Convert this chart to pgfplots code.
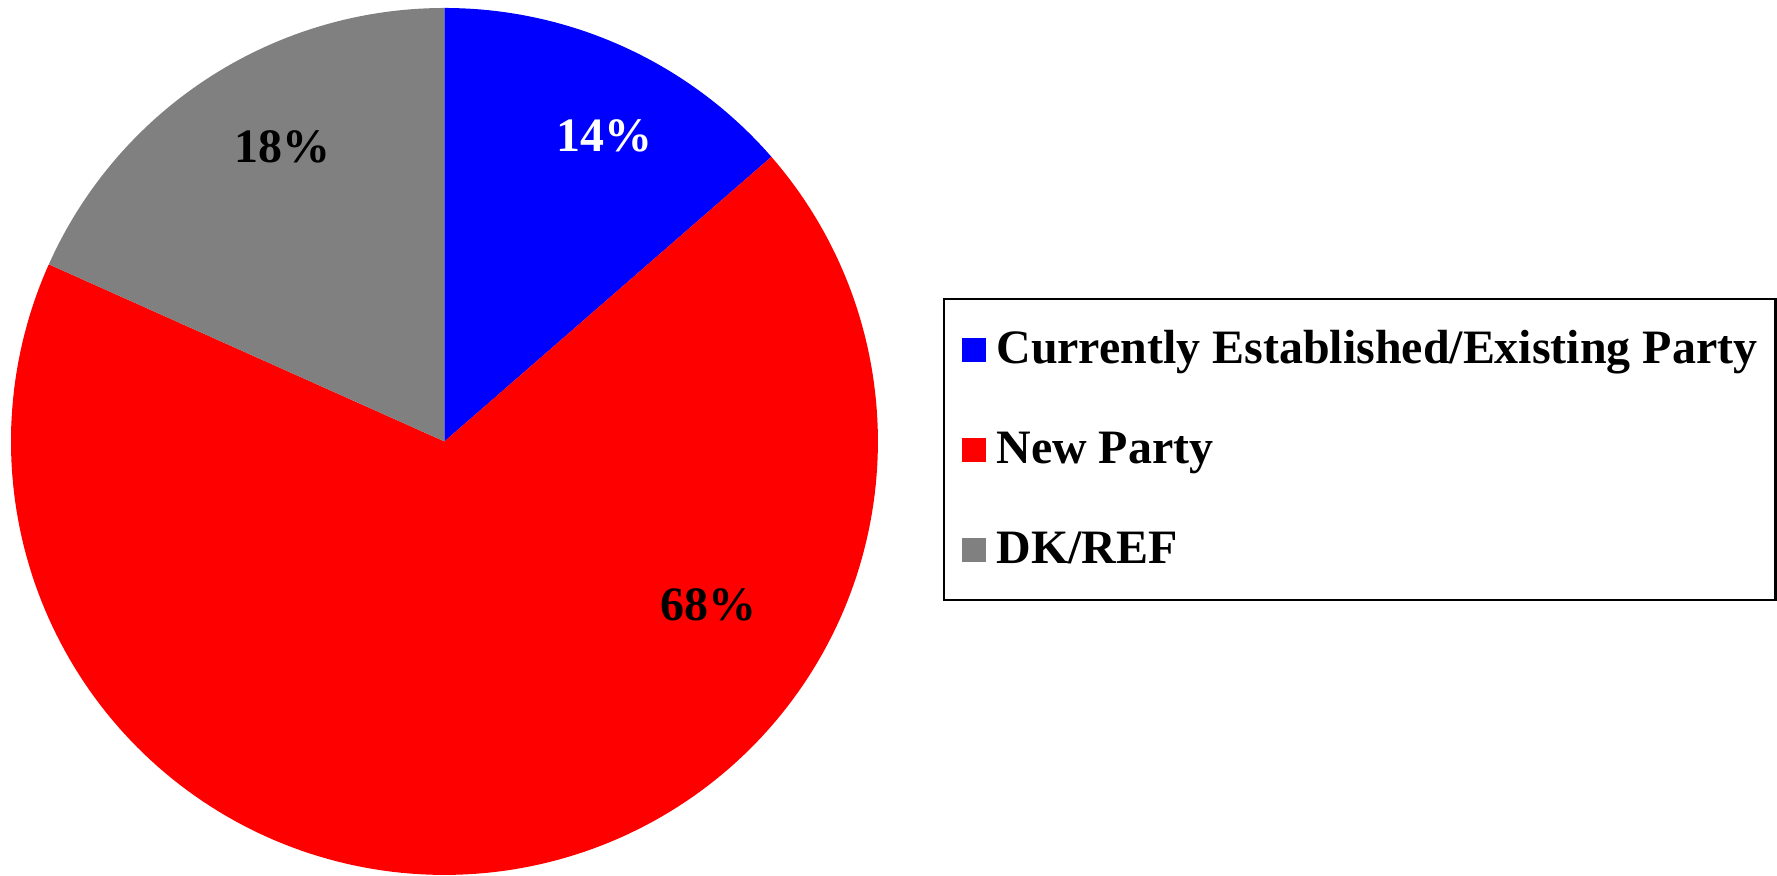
\documentclass[border=0pt]{standalone}
\usepackage{pgfplots}
\pgfplotsset{compat=1.18}
\usepackage{fontspec}
\setmainfont{Liberation Serif}
\definecolor{cblue}{RGB}{0,0,255}
\definecolor{cred}{RGB}{255,0,0}
\definecolor{cgray}{RGB}{128,128,128}
% shares in percent
\def\vA{13.6}% Currently Established/Existing Party
\def\vB{68.1}% New Party
\def\vC{18.3}% DK/REF
\pgfmathsetmacro{\aA}{90}
\pgfmathsetmacro{\aB}{90-3.6*\vA}
\pgfmathsetmacro{\aC}{\aB-3.6*\vB}
\pgfmathsetmacro{\aD}{\aC-3.6*\vC}
\begin{document}
\begin{tikzpicture}
\begin{axis}[
  x=130.2pt, y=130.2pt,
  xmin=-1.0253, xmax=3.0691, ymin=-1.0023, ymax=1.0184,
  hide axis, clip=false,
  legend image code/.code={\fill[#1] (0pt,-3.6pt) rectangle (7.2pt,3.6pt);},
  legend cell align=left,
  legend style={
    at={(0.5312,0.6602)}, anchor=north west,
    draw=black, line width=0.8pt,
    font=\fontsize{14.4pt}{17pt}\selectfont\bfseries,
    nodes={inner sep=0pt},
    row sep=19pt, column sep=3pt,
    inner xsep=5.5pt, inner ysep=9.5pt,
  },
]
\path (rel axis cs:0,0) rectangle (rel axis cs:1,1);
\addplot[fill=cblue, draw=none, domain=\aB:\aA, samples=60, variable=\t]
  ({cos(t)},{sin(t)}) -- (0,0) -- cycle;
\addlegendentry{\rule[-3pt]{0pt}{12pt}Currently Established/Existing Party}
\addplot[fill=cred, draw=none, domain=\aC:\aB, samples=200, variable=\t]
  ({cos(t)},{sin(t)}) -- (0,0) -- cycle;
\addlegendentry{\rule[-3pt]{0pt}{12pt}New Party}
\addplot[fill=cgray, draw=none, domain=\aD:\aC, samples=60, variable=\t]
  ({cos(t)},{sin(t)}) -- (0,0) -- cycle;
\addlegendentry{\rule[-3pt]{0pt}{12pt}DK/REF}
\node[anchor=base, inner sep=0pt, text=white, font=\fontsize{14.4pt}{17pt}\selectfont\bfseries] at (axis cs:0.369,0.669) {14\%};
\node[anchor=base, inner sep=0pt, text=black, font=\fontsize{14.4pt}{17pt}\selectfont\bfseries] at (axis cs:-0.374,0.644) {18\%};
\node[anchor=base, inner sep=0pt, text=black, font=\fontsize{14.4pt}{17pt}\selectfont\bfseries] at (axis cs:0.609,-0.414) {68\%};
\end{axis}
\end{tikzpicture}
\end{document}
